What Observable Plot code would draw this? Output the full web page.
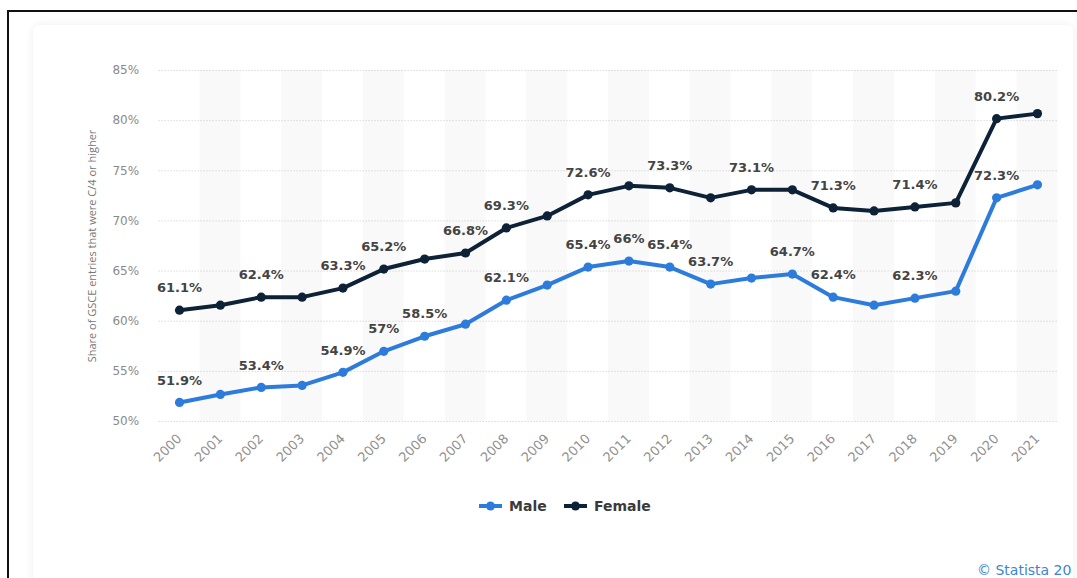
<!DOCTYPE html>
<html>
<head>
<meta charset="utf-8">
<script src="https://cdn.jsdelivr.net/npm/d3@7"></script>
<script src="https://cdn.jsdelivr.net/npm/@observablehq/plot@0.6"></script>
<style>
html, body { margin: 0; padding: 0; background: #fff; }
#page { position: relative; width: 1077px; height: 578px; overflow: hidden; font-family: "DejaVu Sans", sans-serif; background: #fff; }
#frame { position: absolute; left: 7px; top: 10px; width: 1100px; height: 600px; border-left: 2px solid #111; border-top: 2px solid #111; }
#card { position: absolute; left: 33px; top: 25px; width: 1040px; height: 600px; border-radius: 6px; box-shadow: 0 0 10px rgba(0,0,0,0.07); background: #fff; }
#chart { position: absolute; left: 0; top: 0; }
.leg { position: absolute; top: 498px; display: flex; align-items: center; font-weight: bold; font-size: 14px; color: #3a3a3a; }
.leg svg { margin-right: 7px; }
#caption { position: absolute; left: 977px; top: 562px; font-size: 14px; color: #3d85d1; white-space: nowrap; }
</style>
</head>
<body>
<div id="page">
  <div id="frame"></div>
  <div id="card"></div>
  <div id="chart"></div>
  <div class="leg" id="legMale" style="left:479px"></div>
  <div class="leg" id="legFemale" style="left:564px"></div>
  <div id="caption">© Statista 20</div>
</div>
<script>
const years = [2000,2001,2002,2003,2004,2005,2006,2007,2008,2009,2010,2011,2012,2013,2014,2015,2016,2017,2018,2019,2020,2021];
const male = [51.9,52.7,53.4,53.6,54.9,57,58.5,59.7,62.1,63.6,65.4,66,65.4,63.7,64.3,64.7,62.4,61.6,62.3,63.0,72.3,73.6];
const female = [61.1,61.6,62.4,62.4,63.3,65.2,66.2,66.8,69.3,70.5,72.6,73.5,73.3,72.3,73.1,73.1,71.3,71.0,71.4,71.8,80.2,80.7];
const maleLabelYears = [2000,2002,2004,2005,2006,2008,2010,2011,2012,2013,2015,2016,2018,2020];
const femaleLabelYears = [2000,2002,2004,2005,2007,2008,2010,2012,2014,2016,2018,2020];
const seriesNames = ["Male","Female"];
const seriesColors = ["#2d7cdb","#0d2137"];
const yTicks = [50,55,60,65,70,75,80,85];
const yLabel = "Share of GSCE entries that were C/4 or higher";

const rows = [
  ...years.map((y,i) => ({year:y, value:male[i], series:"Male"})),
  ...years.map((y,i) => ({year:y, value:female[i], series:"Female"}))
];
const labels = rows.filter(d => (d.series === "Male" ? maleLabelYears : femaleLabelYears).includes(d.year));
const bandYears = years.filter(y => y % 2 === 1);

const chart = Plot.plot({
  width: 1077,
  height: 470,
  marginLeft: 158.6,
  marginRight: 19.6,
  marginTop: 70,
  marginBottom: 49,
  style: { background: "transparent", fontFamily: "DejaVu Sans, sans-serif", overflow: "visible" },
  x: { domain: [1999.5, 2021.5] },
  y: { domain: [50, 85] },
  color: { domain: seriesNames, range: seriesColors },
  marks: [
    Plot.rect(bandYears, { x1: d => d - 0.5, x2: d => d + 0.5, y1: 50, y2: 85, fill: "#f9f9f9" }),
    Plot.ruleY(yTicks, { stroke: "#c8c8c8", strokeDasharray: "1,2", strokeWidth: 1 }),
    Plot.axisY(yTicks, { tickSize: 0, tickPadding: 20, tickFormat: d => d + "%", fill: "#8a8a8a", fontSize: 12, label: null }),
    Plot.axisX(years, { tickRotate: -45, tickSize: 0, tickPadding: 15, tickFormat: d => String(d), fill: "#8f8f8f", fontSize: 13, label: null }),
    Plot.text([yLabel], { frameAnchor: "left", textAnchor: "middle", rotate: -90, dx: -66.6, fill: "#777", fontSize: 11, fontFamily: "Open Sans" }),
    Plot.line(rows, { x: "year", y: "value", z: "series", stroke: "series", strokeWidth: 4, strokeLinejoin: "round", curve: "linear" }),
    Plot.dot(rows, { x: "year", y: "value", fill: "series", r: 4.6 }),
    Plot.text(labels, { x: "year", y: "value", text: d => d.value + "%", dy: -22, fill: "#444", fontSize: 13, fontWeight: "bold" })
  ]
});
document.getElementById("chart").appendChild(chart);

function legendItem(id, name, color) {
  const el = document.getElementById(id);
  el.innerHTML = `<svg width="23" height="12"><line x1="0" y1="6" x2="23" y2="6" stroke="${color}" stroke-width="4"/><circle cx="11.5" cy="6" r="4.5" fill="${color}"/></svg><span>${name}</span>`;
}
legendItem("legMale", seriesNames[0], seriesColors[0]);
legendItem("legFemale", seriesNames[1], seriesColors[1]);
</script>
</body>
</html>
